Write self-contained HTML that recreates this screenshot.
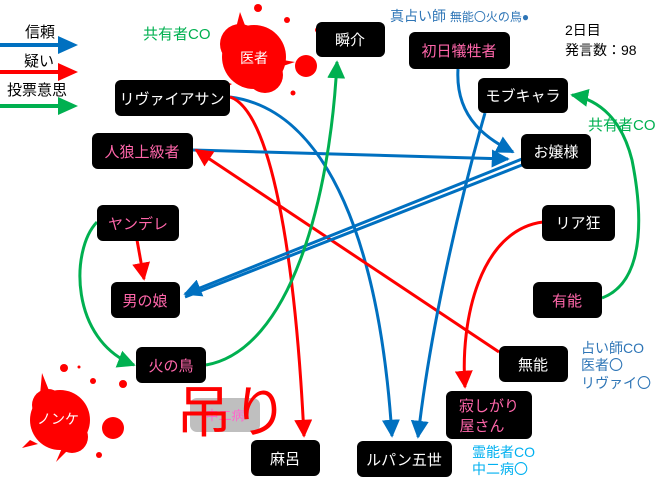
<!DOCTYPE html>
<html><head><meta charset="utf-8"><style>
html,body{margin:0;padding:0;background:#fff;}
svg{display:block;}
text{font-family:"Liberation Sans","Noto Sans CJK JP",sans-serif;}
</style></head><body>
<svg width="660" height="479" viewBox="0 0 660 479" xmlns="http://www.w3.org/2000/svg">
<defs>
<marker id="ab" viewBox="0 0 10 10" refX="9" refY="5" markerWidth="6" markerHeight="6" orient="auto" markerUnits="strokeWidth"><path d="M0,0L10,5L0,10z" fill="#0070c0"/></marker>
<marker id="ar" viewBox="0 0 10 10" refX="9" refY="5" markerWidth="6" markerHeight="6" orient="auto" markerUnits="strokeWidth"><path d="M0,0L10,5L0,10z" fill="#ff0000"/></marker>
<marker id="ag" viewBox="0 0 10 10" refX="9" refY="5" markerWidth="6" markerHeight="6" orient="auto" markerUnits="strokeWidth"><path d="M0,0L10,5L0,10z" fill="#00b050"/></marker>
</defs>

<!-- legend -->
<text x="25" y="37" font-size="15" fill="#000">信頼</text>
<line x1="0" y1="45" x2="58" y2="45" stroke="#0070c0" stroke-width="4"/>
<path d="M58 36 L78 45 L58 54z" fill="#0070c0"/>
<text x="24" y="66" font-size="15" fill="#000">疑い</text>
<line x1="0" y1="72" x2="58" y2="72" stroke="#ff0000" stroke-width="4"/>
<path d="M58 63 L78 72 L58 81z" fill="#ff0000"/>
<text x="7" y="95" font-size="15" fill="#000">投票意思</text>
<line x1="0" y1="106" x2="58" y2="106" stroke="#00b050" stroke-width="4"/>
<path d="M58 97 L78 106 L58 115z" fill="#00b050"/>

<!-- splats -->
<g fill="#ff0000">
<circle cx="254" cy="57" r="32"/><circle cx="240" cy="44" r="20"/><circle cx="265" cy="75" r="18"/>
<path d="M236 28 L240 12 L246 28z M283 60 L295 62 L283 66z M226 82 L218 92 L232 84z"/>
<circle cx="306" cy="66" r="11"/><circle cx="258" cy="8" r="4"/><circle cx="287" cy="20" r="3"/><circle cx="293" cy="93" r="2.5"/><circle cx="318" cy="30" r="3"/>
<circle cx="60" cy="420" r="30"/><circle cx="48" cy="405" r="16"/><circle cx="72" cy="437" r="16"/>
<path d="M40 395 L42 373 L50 393z M30 440 L22 448 L38 444z M62 448 L56 462 L70 448z"/>
<circle cx="113" cy="428" r="11"/><circle cx="64" cy="368" r="4"/><circle cx="93" cy="381" r="3"/><circle cx="123" cy="384" r="4"/><circle cx="99" cy="455" r="3"/><circle cx="79" cy="367" r="1.5"/>
</g>
<text x="254" y="63" font-size="14" fill="#fff" text-anchor="middle">医者</text>
<text x="58" y="424" font-size="14" fill="#fff" text-anchor="middle">ノンケ</text>

<!-- free labels -->
<text x="143" y="39" font-size="15" fill="#00b050">共有者CO</text>
<text x="390" y="21" font-size="14" fill="#2e75b6">真占い師 <tspan font-size="12">無能〇火の鳥●</tspan></text>
<text x="565" y="35" font-size="14" fill="#000">2日目</text>
<text x="565" y="55" font-size="14" fill="#000">発言数：98</text>
<text x="588" y="130" font-size="15" fill="#00b050">共有者CO</text>
<text x="581" y="353" font-size="14" fill="#2e75b6">占い師CO</text>
<text x="581" y="370" font-size="14" fill="#2e75b6">医者〇</text>
<text x="581" y="388" font-size="14" fill="#2e75b6">リヴァイ〇</text>
<text x="472" y="457" font-size="14" fill="#00b0f0">霊能者CO</text>
<text x="472" y="474" font-size="14" fill="#00b0f0">中二病〇</text>

<!-- hanged 中二病 -->
<rect x="190" y="398" width="70" height="34" rx="7" fill="#bfbfbf"/>
<text x="225" y="420" font-size="13" fill="#ff66cc" text-anchor="middle">中二病</text>
<text x="176" y="432" font-size="56" fill="#ff0000">吊り</text>

<!-- connectors -->
<g fill="none" stroke-width="3">
<path d="M230 97 C330 110 380 250 392 436" stroke="#0070c0" marker-end="url(#ab)"/>
<path d="M230 97 C270 110 295 250 304 436" stroke="#ff0000" marker-end="url(#ar)"/>
<path d="M193 150 L508 159" stroke="#0070c0" marker-end="url(#ab)"/>
<path d="M499 352 L196 150" stroke="#ff0000" marker-end="url(#ar)"/>
<path d="M458 69 C455 120 490 140 513 152" stroke="#0070c0" marker-end="url(#ab)"/>
<path d="M485 113 C460 200 430 330 418 437" stroke="#0070c0" marker-end="url(#ab)"/>
<path d="M522 159 L185 294" stroke="#0070c0" marker-end="url(#ab)"/>
<path d="M522 165 L185 297" stroke="#0070c0"/>
<path d="M206 365 C290 350 330 200 337 62" stroke="#00b050" marker-end="url(#ag)"/>
<path d="M97 222 C70 250 70 340 134 365" stroke="#00b050" marker-end="url(#ag)"/>
<path d="M137 240 L144 279" stroke="#ff0000" marker-end="url(#ar)"/>
<path d="M602 298 C650 280 640 200 632 160 C622 120 600 100 572 95" stroke="#00b050" marker-end="url(#ag)"/>
<path d="M543 222 C480 230 460 320 465 387" stroke="#ff0000" marker-end="url(#ar)"/>
</g>

<!-- nodes -->
<g fill="#000">
<rect x="316" y="22" width="69" height="35" rx="6"/>
<rect x="409" y="32" width="101" height="37" rx="6"/>
<rect x="478" y="78" width="90" height="35" rx="6"/>
<rect x="521" y="134" width="70" height="35" rx="6"/>
<rect x="542" y="205" width="73" height="36" rx="6"/>
<rect x="115" y="80" width="115" height="36" rx="6"/>
<rect x="92" y="133" width="101" height="36" rx="6"/>
<rect x="97" y="205" width="82" height="36" rx="6"/>
<rect x="111" y="282" width="69" height="36" rx="6"/>
<rect x="136" y="347" width="70" height="36" rx="6"/>
<rect x="251" y="440" width="69" height="36" rx="6"/>
<rect x="357" y="441" width="95" height="36" rx="6"/>
<rect x="446" y="391" width="86" height="48" rx="6"/>
<rect x="499" y="346" width="69" height="36" rx="6"/>
<rect x="533" y="282" width="69" height="36" rx="6"/>
</g>
<g font-size="15" text-anchor="middle">
<text x="350" y="45" fill="#fff">瞬介</text>
<text x="459" y="56" fill="#ff66aa">初日犠牲者</text>
<text x="523" y="101" fill="#fff">モブキャラ</text>
<text x="556" y="157" fill="#fff">お嬢様</text>
<text x="578" y="228" fill="#fff">リア狂</text>
<text x="172" y="104" fill="#fff">リヴァイアサン</text>
<text x="142" y="157" fill="#ff66aa">人狼上級者</text>
<text x="138" y="229" fill="#ff66aa">ヤンデレ</text>
<text x="145" y="306" fill="#ff66aa">男の娘</text>
<text x="171" y="371" fill="#ff66aa">火の鳥</text>
<text x="285" y="464" fill="#fff">麻呂</text>
<text x="404" y="465" fill="#fff">ルパン五世</text>
<text x="489" y="411" fill="#ff66aa">寂しがり</text>
<text x="482" y="431" fill="#ff66aa">屋さん</text>
<text x="533" y="370" fill="#fff">無能</text>
<text x="567" y="306" fill="#ff66aa">有能</text>
</g>
</svg>
</body></html>
